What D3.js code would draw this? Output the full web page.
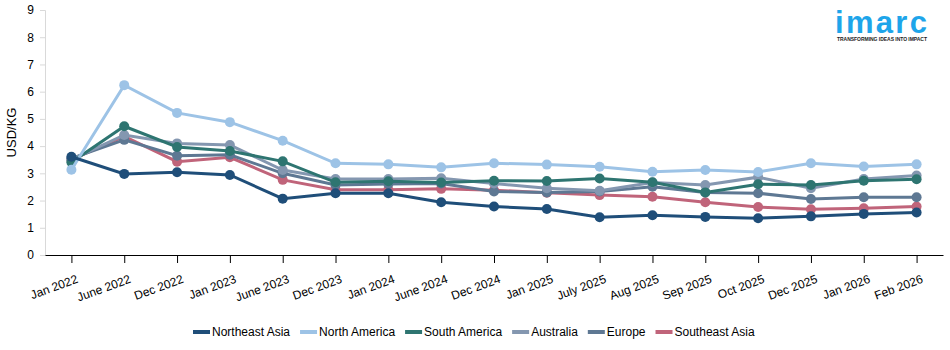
<!DOCTYPE html>
<html>
<head>
<meta charset="utf-8">
<script src="https://cdn.jsdelivr.net/npm/d3@7"></script>
<style>
  body { margin: 0; background: #fff; }
  text { font-family: "Liberation Sans", Arial, sans-serif; }
</style>
</head>
<body>
<div id="chart"></div>
<script>
// categories on the x axis
var months = ["Jan 2022", "June 2022", "Dec 2022", "Jan 2023", "June 2023", "Dec 2023", "Jan 2024",
  "June 2024", "Dec 2024", "Jan 2025", "July 2025", "Aug 2025", "Sep 2025", "Oct 2025",
  "Dec 2025", "Jan 2026", "Feb 2026"];

var yTicks = [0, 1, 2, 3, 4, 5, 6, 7, 8, 9];

// price series, USD/KG
var northeastAsia = [3.61, 2.98, 3.04, 2.94, 2.07, 2.27, 2.27, 1.94, 1.78, 1.69, 1.39, 1.46, 1.40, 1.35, 1.42, 1.51, 1.56];
var northAmerica = [3.13, 6.24, 5.22, 4.88, 4.20, 3.37, 3.33, 3.22, 3.37, 3.32, 3.24, 3.06, 3.12, 3.05, 3.37, 3.25, 3.33];
var southAmerica = [3.41, 4.73, 3.97, 3.82, 3.44, 2.67, 2.71, 2.66, 2.73, 2.72, 2.81, 2.67, 2.30, 2.60, 2.57, 2.73, 2.78];
var australia = [3.50, 4.41, 4.10, 4.04, 3.12, 2.79, 2.79, 2.82, 2.63, 2.45, 2.36, 2.66, 2.57, 2.86, 2.45, 2.79, 2.92];
var europe = [3.55, 4.23, 3.65, 3.68, 3.00, 2.57, 2.61, 2.63, 2.33, 2.30, 2.33, 2.51, 2.30, 2.27, 2.06, 2.12, 2.12];
var southeastAsia = [3.50, 4.36, 3.43, 3.59, 2.76, 2.40, 2.40, 2.43, 2.38, 2.29, 2.20, 2.14, 1.94, 1.76, 1.68, 1.72, 1.78];

var series = [
  { name: "Northeast Asia", color: "#1f4e79", values: northeastAsia },
  { name: "North America", color: "#9dc3e6", values: northAmerica },
  { name: "South America", color: "#2e7571", values: southAmerica },
  { name: "Australia", color: "#8497b0", values: australia },
  { name: "Europe", color: "#5e7893", values: europe },
  { name: "Southeast Asia", color: "#c0647a", values: southeastAsia }
];

var width = 950, height = 350;
var margin = { top: 10, right: 7, bottom: 95, left: 45 };
var innerWidth = width - margin.left - margin.right;
var innerHeight = height - margin.top - margin.bottom;

var svg = d3.select("#chart")
  .append("svg")
  .attr("width", width)
  .attr("height", height);

var g = svg.append("g")
  .attr("transform", "translate(" + margin.left + "," + margin.top + ")");

var x = d3.scalePoint()
  .domain(months)
  .range([0, innerWidth])
  .padding(0.5);

var y = d3.scaleLinear()
  .domain([0, 9])
  .range([innerHeight, 0]);

// y axis
var yAxis = g.append("g")
  .call(d3.axisLeft(y).tickValues(yTicks).tickSize(5).tickPadding(6));
yAxis.select(".domain").attr("stroke", "#d9d9d9");
yAxis.selectAll(".tick line").attr("stroke", "#d9d9d9");
yAxis.selectAll(".tick text").attr("font-size", 12).attr("fill", "#000");

// x axis
var xAxis = g.append("g")
  .attr("transform", "translate(0," + innerHeight + ")")
  .call(d3.axisBottom(x).tickSizeInner(8).tickSizeOuter(0));
xAxis.select(".domain").attr("stroke", "#000");
xAxis.selectAll(".tick line").attr("stroke", "#000");
xAxis.selectAll(".tick text")
  .attr("font-size", 12)
  .attr("fill", "#000")
  .attr("text-anchor", "end")
  .attr("dy", "0")
  .attr("transform", "translate(3,17) rotate(-20)");

// axis title
svg.append("text")
  .attr("transform", "translate(16," + (margin.top + innerHeight / 2) + ") rotate(-90)")
  .attr("text-anchor", "middle")
  .attr("font-size", 13)
  .text("USD/KG");

var line = d3.line()
  .x(function (d, i) { return x(months[i]); })
  .y(function (d) { return y(d); });

// draw last series first so Northeast Asia ends on top
series.slice().reverse().forEach(function (s) {
  g.append("path")
    .datum(s.values)
    .attr("fill", "none")
    .attr("stroke", s.color)
    .attr("stroke-width", 3)
    .attr("d", line);

  g.selectAll(null)
    .data(s.values)
    .enter()
    .append("circle")
    .attr("cx", function (d, i) { return x(months[i]); })
    .attr("cy", function (d) { return y(d); })
    .attr("r", 5)
    .attr("fill", s.color);
});

// legend
var legend = svg.append("g");
var lx = 0;
series.forEach(function (s) {
  var item = legend.append("g").attr("transform", "translate(" + lx + ",0)");
  item.append("rect")
    .attr("x", 0).attr("y", -2)
    .attr("width", 17).attr("height", 4)
    .attr("fill", s.color);
  var t = item.append("text")
    .attr("x", 19).attr("y", 4)
    .attr("font-size", 12)
    .text(s.name);
  lx += 19 + t.node().getComputedTextLength() + 10;
});
legend.attr("transform", "translate(193,332)");

// logo
var logo = svg.append("g").attr("transform", "translate(835,0)");
logo.append("text")
  .attr("x", 0).attr("y", 33)
  .attr("font-size", 31)
  .attr("font-weight", "bold")
  .attr("fill", "#1ea5ea")
  .attr("textLength", 92)
  .text("imarc");
logo.append("text")
  .attr("x", 2).attr("y", 41)
  .attr("font-size", 5)
  .attr("font-weight", "bold")
  .attr("fill", "#222")
  .attr("textLength", 90)
  .text("TRANSFORMING IDEAS INTO IMPACT");
</script>
</body>
</html>
